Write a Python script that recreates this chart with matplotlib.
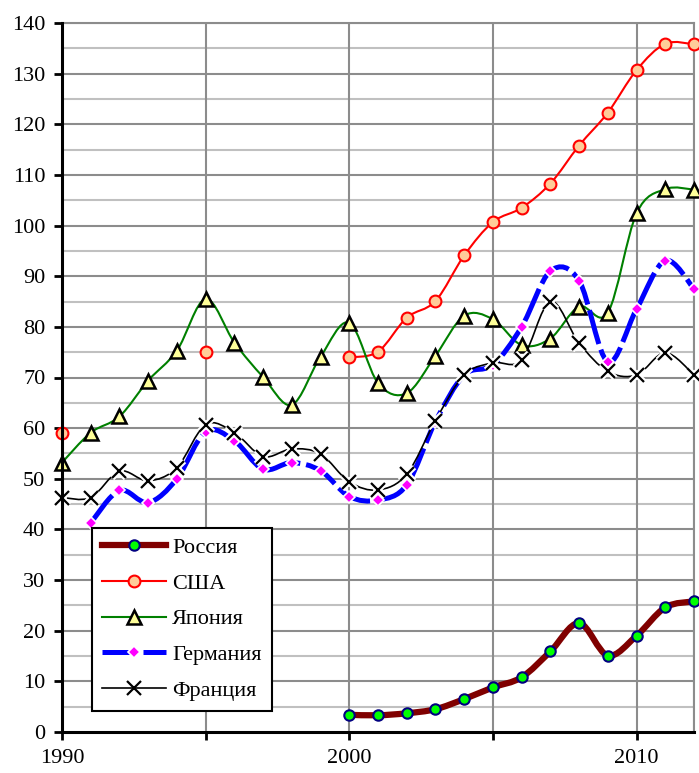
import matplotlib
matplotlib.use("Agg")
import matplotlib.pyplot as plt
import numpy as np
from matplotlib.path import Path
from matplotlib.patches import PathPatch
from matplotlib.lines import Line2D

plt.rcParams['font.family'] = ['Liberation Serif', 'DejaVu Serif']

# data
years_rus = list(range(2000, 2013))
russia = [3.4, 3.3, 3.7, 4.5, 6.5, 8.8, 10.8, 15.9, 21.5, 15.1, 19.0, 24.6, 25.8]

years_usa_early = [1990, 1995]
usa_early = [59.0, 75.1]
years_usa = list(range(2000, 2013))
usa = [74.0, 75.1, 81.8, 85.1, 94.1, 100.7, 103.5, 108.3, 115.8, 122.3, 130.7, 135.9, 135.8]

years_jap = list(range(1990, 2013))
japan = [53.2, 59.1, 62.3, 69.4, 75.3, 85.5, 76.9, 70.1, 64.6, 74.1, 80.8,
         68.9, 66.9, 74.3, 82.2, 81.5, 76.4, 77.7, 84.0, 82.8, 102.4, 107.2, 107.1]

years_ger = list(range(1991, 2013))
germany = [41.3, 47.7, 45.3, 50.0, 59.3, 57.5, 51.9, 53.2, 51.6, 46.5,
           45.8, 48.8, 61.3, 70.5, 72.5, 80.0, 91.0, 89.1, 73.1, 83.5, 93.1, 87.5]

years_fra = list(range(1990, 2013))
france = [46.3, 46.3, 51.5, 49.6, 52.2, 60.7, 59.1, 54.4, 55.9, 54.9, 49.4,
          47.8, 50.9, 61.5, 70.5, 72.9, 73.5, 85.0, 76.8, 71.2, 70.5, 74.9, 70.5]


def smooth_path(xs, ys):
    # Excel-like smoothed line as cubic Bezier path
    p = np.column_stack([xs, ys]).astype(float)
    n = len(p)
    verts = [p[0]]
    codes = [Path.MOVETO]
    for i in range(n - 1):
        p0 = p[i - 1] if i > 0 else p[i]
        p3 = p[i + 2] if i + 2 < n else p[i + 1]
        c1 = p[i] + (p[i + 1] - p0) / 6.0
        c2 = p[i + 1] - (p3 - p[i]) / 6.0
        verts += [c1, c2, p[i + 1]]
        codes += [Path.CURVE4] * 3
    return Path(verts, codes)


fig = plt.figure(figsize=(6.99, 7.73), dpi=100)
ax = fig.add_axes([62 / 699, 1 - 732 / 773, 632 / 699, 709 / 773])

ax.set_xlim(1990, 2012)
ax.set_ylim(0, 140)

# grid
for y in range(5, 140, 10):
    ax.axhline(y, color='#c0c0c0', lw=1.5, zorder=0)
for y in range(10, 141, 10):
    ax.axhline(y, color='#8c8c8c', lw=1.5, zorder=0)
for x in [1995, 2000, 2005, 2010, 2012]:
    ax.axvline(x, color='#8c8c8c', lw=1.5, zorder=0)

# Russia
ax.add_patch(PathPatch(smooth_path(years_rus, russia), fill=False, ec='#800000',
                       lw=4.5, zorder=2, capstyle='round', joinstyle='round'))
ax.plot(years_rus, russia, ls='none', marker='o', ms=7.5, mfc='#00ff00', mec='#000080',
        mew=1.5, zorder=3, clip_on=False)

# USA
ax.add_patch(PathPatch(smooth_path(years_usa, usa), fill=False, ec='#ff0000', lw=1.5, zorder=4))
ax.plot(years_usa_early + years_usa, usa_early + usa, ls='none', marker='o', ms=8.5,
        mfc='#ffcc99', mec='#ff0000', mew=1.5, zorder=5, clip_on=False)

# Japan
ax.add_patch(PathPatch(smooth_path(years_jap, japan), fill=False, ec='#008000', lw=1.5, zorder=6))
ax.plot(years_jap, japan, ls='none', marker='^', ms=10, mfc='#ffff99', mec='black',
        mew=1.8, zorder=7, clip_on=False)

# Germany
ax.add_patch(PathPatch(smooth_path(years_ger, germany), fill=False, ec='#0000ff', lw=3.6,
                       ls=(0, (7, 1.2)), zorder=8))
ax.plot(years_ger, germany, ls='none', marker='D', ms=6, mfc='#ff00ff', mec='white',
        mew=1.2, zorder=9, clip_on=False)

# France
ax.add_patch(PathPatch(smooth_path(years_fra, france), fill=False, ec='black', lw=1.2, zorder=10))
ax.plot(years_fra, france, ls='none', marker='x', ms=9.5, mec='white', mew=4.5,
        zorder=11, clip_on=False)
ax.plot(years_fra, france, ls='none', marker='x', ms=9.5, mec='black', mew=1.6,
        zorder=12, clip_on=False)

# axes styling
for s in ['top', 'right']:
    ax.spines[s].set_color('#8c8c8c')
    ax.spines[s].set_linewidth(1.5)
for s in ['left', 'bottom']:
    ax.spines[s].set_color('black')
    ax.spines[s].set_linewidth(2.2)
    ax.spines[s].set_zorder(13)

ax.set_yticks(range(0, 141, 10))
ax.set_xticks([1990, 1995, 2000, 2005, 2010])
ax.set_xticklabels(['1990', '', '2000', '', '2010'])
ax.tick_params(axis='both', direction='out', length=6, width=2, color='black')
ax.tick_params(axis='y', labelsize=16, pad=6)
ax.tick_params(axis='x', labelsize=16, pad=6)

handles = [
    Line2D([], [], color='#800000', lw=4.5, marker='o', ms=7.5, mfc='#00ff00', mec='#000080', mew=1.5),
    Line2D([], [], color='#ff0000', lw=1.5, marker='o', ms=8.5, mfc='#ffcc99', mec='#ff0000', mew=1.5),
    Line2D([], [], color='#008000', lw=1.5, marker='^', ms=9.5, mfc='#ffff99', mec='black', mew=1.8),
    Line2D([], [], color='#0000ff', lw=3.6, ls=(0, (7, 1.2)), marker='D', ms=6, mfc='#ff00ff',
           mec='white', mew=1.2),
    Line2D([], [], color='black', lw=1.2, marker='x', ms=9.5, mec='black', mew=1.6),
]
labels = ['Россия', 'США', 'Япония', 'Германия', 'Франция']
leg = ax.legend(handles, labels, loc='lower left', bbox_to_anchor=(0.0475, 0.03),
                borderaxespad=0, fontsize=16, frameon=True, fancybox=False,
                framealpha=1, edgecolor='black', handlelength=2.9, handletextpad=0.25,
                labelspacing=0.68, borderpad=0.45, numpoints=1)
leg.get_frame().set_linewidth(1.5)
leg.set_zorder(20)

fig.savefig('out.png', dpi=100)
